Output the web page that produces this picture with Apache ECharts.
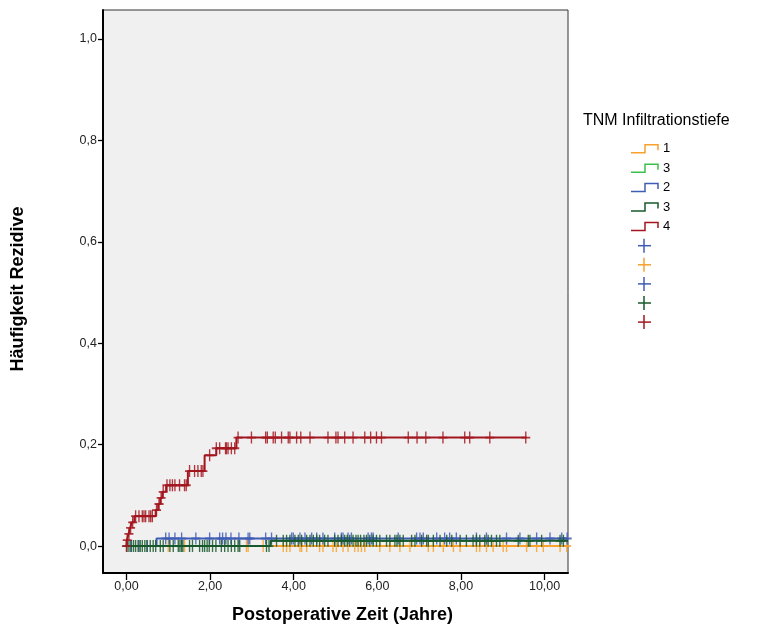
<!DOCTYPE html>
<html>
<head>
<meta charset="UTF-8">
<title>Häufigkeit Rezidive</title>
<script src="https://cdn.jsdelivr.net/npm/echarts@6/dist/echarts.min.js"></script>
</head>
<body style="margin:0;background:#fff;">
<div id="main" style="width:758px;height:635px;"></div>
<script type="text/javascript">
// Tick labels
var xTicks = [0, 2, 4, 6, 8, 10];
var yTicks = [0, 0.2, 0.4, 0.6, 0.8, 1.0];

// Legend (order as in the original)
var legendNames = ['1', '3', '2', '3', '4'];
var legendColors = ['#f9a12c', '#3dbf4c', '#3f5cb4', '#17592b', '#a3161f'];
var censorLegendColors = ['#3f5cb4', '#f9a12c', '#3f5cb4', '#17592b', '#a3161f'];

// Step curves: event times, cumulative values, last follow-up time
var g1Times = [0];
var g1Vals = [0];
var g1End = 10.53;

var g3aTimes = [0];
var g3aVals = [0];
var g3aEnd = 10.5;

var g2Times = [0, 0.72];
var g2Vals = [0, 0.015];
var g2End = 10.56;

var g3bTimes = [0, 3.45];
var g3bVals = [0, 0.0105];
var g3bEnd = 10.56;

var g4Times = [0, 0.01, 0.05, 0.09, 0.13, 0.19, 0.70, 0.76, 0.81, 0.86, 0.95, 1.47, 1.87, 2.15, 2.63];
var g4Vals = [0, 0.012, 0.024, 0.036, 0.047, 0.059, 0.071, 0.083, 0.095, 0.107, 0.120, 0.148, 0.179, 0.193, 0.214];
var g4End = 9.57;

// Censored cases (times)
var g1Cens = [1.00, 1.39, 2.87, 2.91, 3.27, 3.75, 3.83, 3.91, 4.15, 4.19, 4.31, 4.62, 4.70, 4.94, 5.02, 5.18,
    5.30, 5.46, 5.54, 5.62, 5.70, 6.06, 6.30, 6.54, 6.78, 7.22, 7.34, 7.58, 7.82, 7.98, 8.37, 8.45, 8.61,
    8.77, 9.01, 9.09, 9.57, 9.81, 9.97, 10.37, 10.53];
var g2Cens = [0.10, 0.30, 0.50, 0.94, 1.02, 1.16, 1.32, 1.66, 1.99, 2.23, 2.30, 2.38, 2.50, 2.69, 2.91, 2.95,
    3.33, 3.47, 3.95, 3.99, 4.15, 4.27, 4.43, 4.55, 4.70, 4.98, 5.14, 5.18, 5.30, 5.38, 5.78, 5.86, 5.90,
    6.50, 6.94, 7.02, 7.10, 7.42, 7.61, 7.73, 7.89, 8.37, 8.61, 9.09, 9.41, 9.81, 10.13, 10.41, 10.54];
var g3bCens = [0.015, 0.06, 0.12, 0.17, 0.22, 0.28, 0.33, 0.38, 0.44, 0.49, 0.57, 0.64, 0.70, 0.81, 0.88,
    1.04, 1.12, 1.24, 1.28, 1.32, 1.35, 1.51, 1.58, 1.75, 1.82, 1.87, 1.93, 1.98, 2.06, 2.14, 2.27, 2.35,
    2.43, 2.51, 2.59, 2.67, 2.71, 3.35, 3.41,
    3.59, 3.75, 3.83, 3.91, 4.03, 4.11, 4.19, 4.31, 4.39, 4.47, 4.55, 4.62, 4.74, 4.82, 4.98, 5.06, 5.14,
    5.22, 5.28, 5.34, 5.42, 5.49, 5.54, 5.60, 5.68, 5.74, 5.82, 5.90, 5.98, 6.06, 6.22, 6.30, 6.42, 6.47,
    6.54, 6.62, 6.82, 6.90, 7.06, 7.18, 7.22, 7.34, 7.50, 7.66, 7.78, 7.98, 8.13, 8.29, 8.37, 8.45, 8.57,
    8.65, 8.73, 8.85, 8.93, 9.37, 9.61, 9.65, 9.93, 10.37, 10.45];
var g4Cens = [0, 0.02, 0.06, 0.10, 0.15, 0.22, 0.30, 0.38, 0.42, 0.46, 0.54, 0.58, 0.62, 0.72, 0.78, 0.83,
    0.88, 0.97, 1.04, 1.10, 1.16, 1.27, 1.39, 1.43, 1.51, 1.63, 1.71, 1.79, 1.83, 1.99, 2.15, 2.23, 2.37,
    2.39, 2.43, 2.51, 2.59, 2.67, 2.99, 3.33, 3.37, 3.51, 3.56, 3.71, 3.87, 3.91, 4.07, 4.17, 4.39, 4.82,
    5.01, 5.06, 5.22, 5.42, 5.70, 5.84, 5.98, 6.10, 6.74, 6.95, 7.16, 7.57, 8.09, 8.21, 8.69, 9.55];

var myChart = echarts.init(document.getElementById('main'));

function stepData(times, vals, end) {
    var d = [];
    for (var i = 0; i < times.length; i++) d.push([times[i], vals[i]]);
    d.push([end, vals[vals.length - 1]]);
    return d;
}
function censData(cens, times, vals) {
    return cens.map(function (t) {
        var v = vals[0];
        for (var i = 0; i < times.length; i++) if (times[i] <= t) v = vals[i];
        return [t, v];
    });
}
var plus = 'path://M8.5,0h3v8.5h8.5v3h-8.5v8.5h-3v-8.5h-8.5v-3h8.5z';
function lineSeries(name, data, color, z) {
    return { name: name, type: 'line', step: 'end', data: data, symbol: 'none', z: z, clip: true,
        lineStyle: { color: color, width: 2 }, animation: false };
}
function censSeries(name, data, color, z) {
    return { name: name, type: 'scatter', data: data, symbol: plus, symbolSize: [9, 12], z: z,
        itemStyle: { color: color, opacity: 0.85 }, animation: false };
}

// legend and axis titles drawn as graphic elements
var graphics = [
    { type: 'text', left: 583, top: 113, style: { text: 'TNM Infiltrationstiefe', fontSize: 16,
        fontFamily: 'Liberation Sans, Arial', fill: '#000' } },
    { type: 'text', left: 232, top: 606, style: { text: 'Postoperative Zeit (Jahre)', fontSize: 18,
        fontWeight: 'bold', fontFamily: 'Liberation Sans, Arial', fill: '#000' } },
    { type: 'text', x: 18, y: 289, rotation: Math.PI / 2, style: { text: 'Häufigkeit Rezidive', fontSize: 18,
        fontWeight: 'bold', fontFamily: 'Liberation Sans, Arial', fill: '#000', align: 'center', verticalAlign: 'middle' } }
];
legendNames.forEach(function (n, i) {
    var y = 149.3 + i * 19.4;
    graphics.push({ type: 'polyline', shape: { points: [[631, y + 3.5], [645, y + 3.5], [645, y - 4.5], [658, y - 4.5], [658, y + 1]] },
        style: { stroke: legendColors[i], lineWidth: 1.5, fill: null } });
    graphics.push({ type: 'text', left: 663, top: y - 7, style: { text: n, fontSize: 13,
        fontFamily: 'Liberation Sans, Arial', fill: '#000' } });
});
censorLegendColors.forEach(function (c, i) {
    var y = 245.7 + i * 19.1;
    graphics.push({ type: 'line', shape: { x1: 644, y1: y - 7, x2: 644, y2: y + 7 }, style: { stroke: c, lineWidth: 1.5 } });
    graphics.push({ type: 'line', shape: { x1: 638, y1: y, x2: 651, y2: y }, style: { stroke: c, lineWidth: 1.5 } });
});

var option = {
    backgroundColor: '#fff',
    animation: false,
    grid: { left: 103, top: 10, width: 465, height: 563, show: true, backgroundColor: '#f0f0f0',
        borderColor: '#333', borderWidth: 1 },
    xAxis: {
        type: 'value', min: -0.56, max: 10.56,
        axisLine: { show: true, onZero: false, lineStyle: { color: '#000', width: 2 } },
        axisTick: { show: true, customValues: xTicks, length: 7, lineStyle: { color: '#000', width: 1.3 } },
        axisLabel: { customValues: xTicks, fontSize: 12.5, color: '#222', margin: 7, fontFamily: 'Liberation Sans, Arial',
            formatter: function (v) { return v.toFixed(2).replace('.', ','); } },
        splitLine: { show: false }
    },
    yAxis: {
        type: 'value', min: -0.053, max: 1.057,
        axisLine: { show: true, onZero: false, lineStyle: { color: '#000', width: 2 } },
        axisTick: { show: true, customValues: yTicks, length: 5, lineStyle: { color: '#000', width: 1.3 } },
        axisLabel: { customValues: yTicks, fontSize: 12.5, color: '#222', margin: 6, fontFamily: 'Liberation Sans, Arial',
            formatter: function (v) { return v.toFixed(1).replace('.', ','); } },
        splitLine: { show: false }
    },
    graphic: graphics,
    series: [
        lineSeries('3a', stepData(g3aTimes, g3aVals, g3aEnd), legendColors[1], 2),
        lineSeries('1', stepData(g1Times, g1Vals, g1End), legendColors[0], 3),
        censSeries('1c', censData(g1Cens, g1Times, g1Vals), legendColors[0], 3),
        lineSeries('2', stepData(g2Times, g2Vals, g2End), legendColors[2], 4),
        censSeries('2c', censData(g2Cens, g2Times, g2Vals), legendColors[2], 4),
        lineSeries('3b', stepData(g3bTimes, g3bVals, g3bEnd), legendColors[3], 5),
        censSeries('3bc', censData(g3bCens, g3bTimes, g3bVals), legendColors[3], 5),
        lineSeries('4', stepData(g4Times, g4Vals, g4End), legendColors[4], 6),
        censSeries('4c', censData(g4Cens, g4Times, g4Vals), legendColors[4], 6)
    ]
};
myChart.setOption(option);
</script>
</body>
</html>
